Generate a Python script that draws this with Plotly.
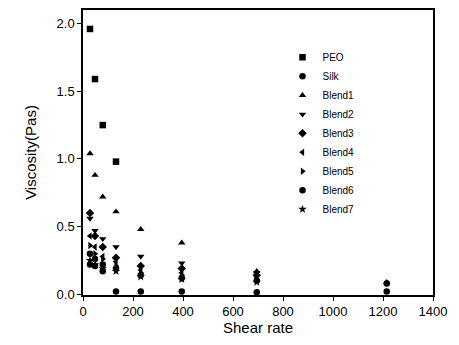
import plotly.graph_objects as go

shear_rate = [28, 48, 79, 132, 231, 395, 695, 1215]

series_names = ["PEO", "Silk", "Blend1", "Blend2", "Blend3", "Blend4", "Blend5", "Blend6", "Blend7"]
peo = [1.96, 1.59, 1.25, 0.98, None, None, None, None]
silk = [0.22, 0.21, 0.17, 0.02, 0.02, 0.02, 0.015, 0.02]
blend1 = [1.04, 0.88, 0.72, 0.61, 0.48, 0.38, 0.17, 0.09]
blend2 = [0.56, 0.47, 0.41, 0.35, 0.28, 0.23, 0.16, None]
blend3 = [0.60, 0.43, 0.35, 0.27, 0.21, 0.19, 0.14, None]
blend4 = [0.43, 0.35, 0.28, 0.24, 0.18, 0.16, 0.12, None]
blend5 = [0.36, 0.30, 0.26, 0.21, 0.16, 0.14, 0.11, None]
blend6 = [0.30, 0.26, 0.22, 0.19, 0.14, 0.12, 0.10, 0.08]
blend7 = [0.25, 0.22, 0.19, 0.17, 0.13, 0.11, 0.09, None]
values = [peo, silk, blend1, blend2, blend3, blend4, blend5, blend6, blend7]
symbols = ["square", "circle", "triangle-up", "triangle-down", "diamond",
           "triangle-left", "triangle-right", "circle", "star"]

fig = go.Figure()
for name, vals, sym in zip(series_names, values, symbols):
    fig.add_trace(go.Scatter(
        x=shear_rate, y=vals, mode="markers", name=name,
        marker=dict(symbol=sym, size=6.5, color="black"),
        cliponaxis=False,
    ))

font = "Liberation Sans, Arial, sans-serif"
fig.update_layout(
    width=459, height=345,
    margin=dict(l=83, r=26, t=8, b=50),
    paper_bgcolor="white", plot_bgcolor="white",
    font=dict(family=font, color="black", size=13),
    showlegend=True,
    legend=dict(x=0.57, y=0.885, xanchor="left", yanchor="top",
                font=dict(size=10, family=font, color="black"),
                bgcolor="rgba(0,0,0,0)", itemwidth=30, tracegroupgap=0),
    xaxis=dict(range=[0, 1400], tickvals=[0, 200, 400, 600, 800, 1000, 1200, 1400],
               showline=True, linecolor="black", linewidth=1.5, mirror=True,
               ticks="outside", ticklen=4, tickcolor="black", showgrid=False, zeroline=False,
               title=dict(text="Shear rate", font=dict(size=15), standoff=4),
               tickfont=dict(size=13)),
    yaxis=dict(range=[-0.005, 2.1], tickvals=[0.0, 0.5, 1.0, 1.5, 2.0], tickformat=".1f",
               showline=True, linecolor="black", linewidth=1.5, mirror=True,
               ticks="outside", ticklen=4, tickcolor="black", showgrid=False, zeroline=False,
               title=dict(text="Viscosity(Pas)", font=dict(size=15), standoff=16),
               tickfont=dict(size=13)),
)
fig.write_html("out.html")
